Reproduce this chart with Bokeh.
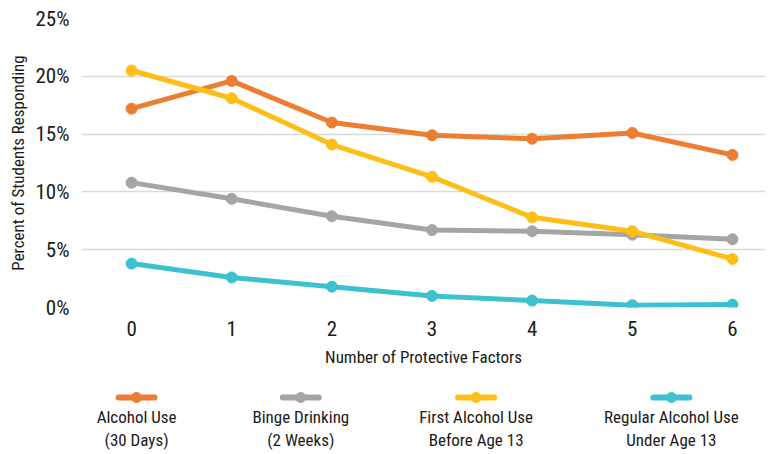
from bokeh.plotting import figure
from bokeh.models import ColumnDataSource, FixedTicker, Range1d
from bokeh.layouts import column
from bokeh.embed import file_html
from bokeh.resources import INLINE
from bokeh.core.properties import value

factors = [0, 1, 2, 3, 4, 5, 6]
alcohol_use = [17.2, 19.6, 16.0, 14.9, 14.6, 15.1, 13.2]
binge_drinking = [10.8, 9.4, 7.9, 6.7, 6.6, 6.3, 5.9]
first_use_before_13 = [20.5, 18.1, 14.1, 11.3, 7.8, 6.6, 4.2]
regular_use_under_13 = [3.8, 2.6, 1.8, 1.0, 0.6, 0.2, 0.25]

series_names = ["Alcohol Use", "Binge Drinking", "First Alcohol Use", "Regular Alcohol Use"]
series_sub = ["(30 Days)", "(2 Weeks)", "Before Age 13", "Under Age 13"]
series_vals = [alcohol_use, binge_drinking, first_use_before_13, regular_use_under_13]
colors = ["#ED7D31", "#A5A5A5", "#FDBF17", "#3CC1D1"]

y_ticks = [0, 5, 10, 15, 20, 25]

FONT = "Liberation Sans Narrow, Arial Narrow, Roboto Condensed, sans-serif"
TXT = "#1a1a1a"
W = 772
BL, BR = 81, 7
H_MAIN, H_LEG = 375, 79

x_range = Range1d(-0.5, 6.33)

p = figure(width=W, height=H_MAIN, output_backend="svg", toolbar_location=None,
           x_range=x_range, y_range=Range1d(0, 25),
           min_border_left=BL, min_border_right=BR, min_border_top=18,
           min_border_bottom=H_MAIN - 307)
p.outline_line_color = None

p.xgrid.grid_line_color = None
p.ygrid.grid_line_color = "#d9d9d9"
p.ygrid.grid_line_width = 1.6

p.yaxis.ticker = FixedTicker(ticks=y_ticks)
p.yaxis.major_label_overrides = {t: f"{t}%" for t in y_ticks}
p.xaxis.ticker = FixedTicker(ticks=factors)

for ax in (p.xaxis, p.yaxis):
    ax.axis_line_color = None
    ax.major_tick_line_color = None
    ax.minor_tick_line_color = None
    ax.major_label_text_font = FONT
    ax.major_label_text_font_size = "21px"
    ax.major_label_text_color = TXT
    ax.axis_label_text_font = FONT
    ax.axis_label_text_font_size = "17px"
    ax.axis_label_text_font_style = "normal"
    ax.axis_label_text_color = TXT

p.xaxis.axis_label = "Number of Protective Factors"
p.yaxis.axis_label = "Percent of Students Responding"
p.xaxis.major_label_standoff = 7
p.xaxis.axis_label_standoff = 8
p.yaxis.major_label_standoff = 6
p.yaxis.axis_label_standoff = 4

for vals, c in zip(series_vals, colors):
    src = ColumnDataSource(dict(x=factors, y=vals))
    p.line("x", "y", source=src, line_color=c, line_width=5, line_join="round", line_cap="round")
    p.scatter("x", "y", source=src, size=11, fill_color=c, line_color=c)

# legend figure (shares the x scale so its frame lines up with the chart)
leg = figure(width=W, height=H_LEG, output_backend="svg", toolbar_location=None,
             x_range=x_range, y_range=Range1d(H_LEG, 0),
             min_border_left=BL, min_border_right=BR, min_border_top=0, min_border_bottom=0)
leg.outline_line_color = None
leg.axis.visible = False
leg.grid.visible = False

legend_x = [0.05, 1.69, 3.44, 5.39]
half = 0.18
for cx, c, n1, n2 in zip(legend_x, colors, series_names, series_sub):
    leg.line([cx - half, cx + half], [22, 22], line_color=c, line_width=6, line_cap="round")
    leg.scatter([cx], [22], size=10, fill_color=c, line_color=c)
    leg.text([cx], [41], text=[n1], text_align="center", text_baseline="middle",
             text_font=value(FONT), text_font_size="17px", text_color=TXT)
    leg.text([cx], [64], text=[n2], text_align="center", text_baseline="middle",
             text_font=value(FONT), text_font_size="17px", text_color=TXT)

layout = column(p, leg, spacing=0)
open("out.html", "w").write(file_html(layout, INLINE))
